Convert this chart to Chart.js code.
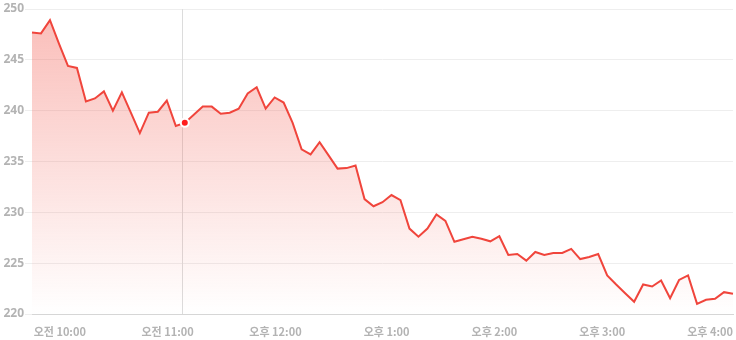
<!DOCTYPE html>
<html>
<head>
<meta charset="utf-8">
<script src="https://cdn.jsdelivr.net/npm/chart.js@4"></script>
<style>
  html, body { margin: 0; padding: 0; background: #fff; }
  #wrap { width: 736px; height: 340px; }
</style>
</head>
<body>
<div id="wrap"><canvas id="priceChart"></canvas></div>
<script>
// 5-minute closes, 9:30 -> 16:00
const times = [];
for (let m = 9 * 60 + 30; m <= 16 * 60; m += 5) times.push(m);

const prices = [
  247.7, 247.6, 248.9, 246.6, 244.4, 244.2, 240.9, 241.2, 241.9, 240.0,
  241.8, 239.8, 237.8, 239.8, 239.9, 241.0, 238.5, 238.8, 239.6, 240.4,
  240.4, 239.7, 239.8, 240.2, 241.7, 242.3, 240.2, 241.3, 240.8, 238.8,
  236.2, 235.7, 236.9, 235.6, 234.3, 234.35, 234.6, 231.3, 230.6, 231.0,
  231.7, 231.2, 228.4, 227.6, 228.4, 229.8, 229.15, 227.1, 227.35, 227.6,
  227.4, 227.15, 227.65, 225.8, 225.9, 225.25, 226.1, 225.8, 226.0, 226.0,
  226.4, 225.4, 225.6, 225.9, 223.8, 222.9, 222.05, 221.2, 222.9, 222.7,
  223.3, 221.55, 223.35, 223.8, 221.0, 221.4, 221.5, 222.15, 222.0
];

const yTicks = [220, 225, 230, 235, 240, 245, 250];
const activeIndex = 17;     // hovered point
const crosshairAt = 16.7;   // mouse position in index units

function timeLabel(m) {
  const h = Math.floor(m / 60), mm = m % 60;
  const ampm = h < 12 ? "오전" : "오후";
  const h12 = h > 12 ? h - 12 : h;
  return ampm + " " + h12 + ":" + String(mm).padStart(2, "0");
}

const crosshair = {
  id: "crosshair",
  beforeDatasetsDraw(chart) {
    const { ctx, chartArea, scales } = chart;
    const x = Math.round(scales.x.getPixelForValue(crosshairAt)) + 0.5;
    ctx.save();
    ctx.strokeStyle = "#dcdcdc";
    ctx.lineWidth = 1;
    ctx.beginPath();
    ctx.moveTo(x, chartArea.top);
    ctx.lineTo(x, chartArea.bottom);
    ctx.stroke();
    ctx.restore();
  }
};

const ctx = document.getElementById("priceChart");

new Chart(ctx, {
  type: "line",
  data: {
    labels: times.map(timeLabel),
    datasets: [{
      data: prices,
      borderColor: "#f0453c",
      borderWidth: 2,
      tension: 0,
      fill: "start",
      backgroundColor: (c) => {
        const area = c.chart.chartArea;
        if (!area) return "rgba(244,110,100,0.3)";
        const g = c.chart.ctx.createLinearGradient(0, area.top, 0, area.bottom);
        g.addColorStop(0, "rgba(244,110,100,0.46)");
        g.addColorStop(1, "rgba(244,110,100,0)");
        return g;
      },
      pointRadius: prices.map((_, i) => (i === activeIndex ? 4 : 0)),
      pointBackgroundColor: "#ff1f1f",
      pointBorderColor: "#fff",
      pointBorderWidth: 2,
      pointHoverRadius: 0,
    }],
  },
  plugins: [crosshair],
  options: {
    responsive: true,
    maintainAspectRatio: false,
    animation: false,
    events: [],
    layout: { padding: { top: 9, right: 3, bottom: 0, left: 3 } },
    plugins: { legend: { display: false }, tooltip: { enabled: false } },
    scales: {
      x: {
        offset: false,
        grid: { display: false, drawTicks: false },
        border: { color: "#d6d6d6" },
        afterFit: (s) => { s.height = 26; s.paddingLeft = 0; s.paddingRight = 0; },
        ticks: {
          autoSkip: false,
          maxRotation: 0,
          align: "end",
          padding: 11,
          color: "#b3b3b3",
          font: { family: "'Noto Sans CJK KR', 'Noto Sans', sans-serif", size: 11, weight: "bold" },
          callback: (v, i) => (times[i] % 60 === 0 ? timeLabel(times[i]) : null),
        },
      },
      y: {
        min: 220,
        max: 250,
        afterBuildTicks: (s) => { s.ticks = yTicks.map((v) => ({ value: v })); },
        afterFit: (s) => { s.width = 29; },
        grid: { color: "#eeeeee", tickLength: 7 },
        border: { display: false },
        ticks: {
          padding: 1,
          color: "#b3b3b3",
          font: { family: "'Noto Sans', sans-serif", size: 12, weight: "bold" },
        },
      },
    },
  },
});
</script>
</body>
</html>
